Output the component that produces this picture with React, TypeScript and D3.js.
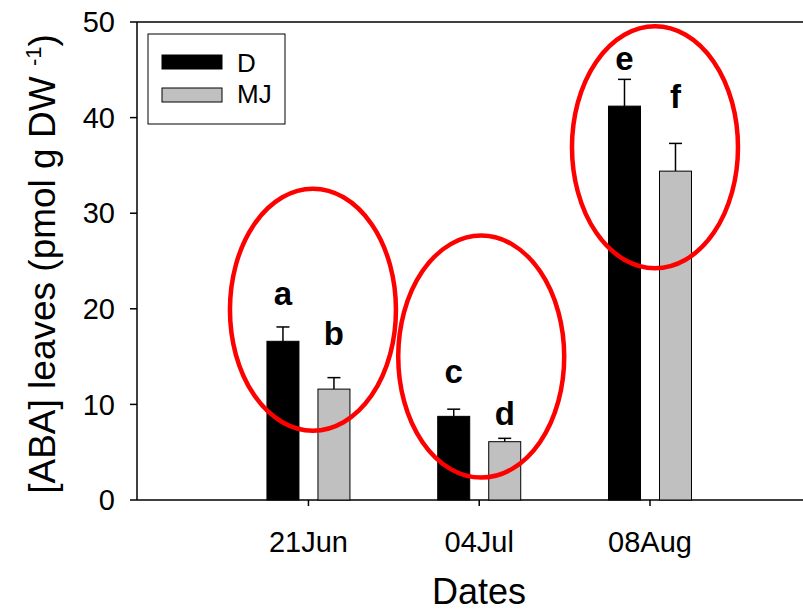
import React from "react";
import * as d3 from "d3";

const dates = ["21Jun", "04Jul", "08Aug"];
const seriesNames = ["D", "MJ"];
const dValues = [16.6, 8.75, 41.2];
const dErrors = [1.5, 0.75, 2.8];
const mjValues = [11.6, 6.1, 34.4];
const mjErrors = [1.2, 0.35, 2.9];
const dLetters = ["a", "c", "e"];
const mjLetters = ["b", "d", "f"];
const dLetterY = [20.4, 12.2, 45.0];
const mjLetterY = [16.2, 7.85, 41.0];
const ellipseCenterY = [19.9, 15.0, 36.9];
const yTicks = [0, 10, 20, 30, 40, 50];
const colors = ["#000000", "#c0c0c0"];

const W = 803, H = 612;
const left = 137, top = 22, bottom = 500, right = 803;

export default function App() {
  const y = d3.scaleLinear().domain([0, 50]).range([bottom, top]);
  const x = d3.scaleLinear().domain([-1.004, 2.896]).range([left, right]);
  const bw = 32, gap = 19;
  const series = [
    { vals: dValues, errs: dErrors, letters: dLetters, ly: dLetterY },
    { vals: mjValues, errs: mjErrors, letters: mjLetters, ly: mjLetterY },
  ];
  const font = "Arial, 'Liberation Sans', sans-serif";
  const ellOffsets = [4.5, 2, 5];
  return (
    <svg width={W} height={H} style={{ position: "absolute", left: 0, top: 0, background: "#fff" }} fontFamily={font}>
      <line x1={left} x2={right} y1={top} y2={top} stroke="#000" strokeWidth={1.5} />
      <line x1={left} x2={left} y1={top} y2={bottom} stroke="#000" strokeWidth={1.5} />
      <line x1={left} x2={right} y1={bottom} y2={bottom} stroke="#000" strokeWidth={1.5} />
      {yTicks.map((t) => (
        <g key={t}>
          <line x1={left - 7} x2={left} y1={y(t)} y2={y(t)} stroke="#000" strokeWidth={1.5} />
          <text x={left - 22} y={y(t)} dy="0.35em" textAnchor="end" fontSize={29}>{t}</text>
        </g>
      ))}
      {dates.map((d, i) => (
        <g key={d}>
          <line x1={x(i)} x2={x(i)} y1={bottom} y2={bottom + 6} stroke="#000" strokeWidth={1.5} />
          <text x={x(i)} y={552} textAnchor="middle" fontSize={29}>{d}</text>
        </g>
      ))}
      {series.map((s, si) =>
        s.vals.map((v, i) => {
          const x0 = si === 0 ? x(i) - gap / 2 - bw : x(i) + gap / 2;
          const cx = x0 + bw / 2;
          const ye = y(v + s.errs[i]);
          return (
            <g key={si + "-" + i}>
              <line x1={cx} x2={cx} y1={y(v)} y2={ye} stroke="#000" strokeWidth={1.5} />
              <line x1={cx - 6.5} x2={cx + 6.5} y1={ye} y2={ye} stroke="#000" strokeWidth={1.5} />
              <rect x={x0} y={y(v)} width={bw} height={bottom - y(v)} fill={colors[si]} stroke="#000" strokeWidth={1} />
              <text x={cx} y={y(s.ly[i])} textAnchor="middle" fontSize={33} fontWeight="bold">{s.letters[i]}</text>
            </g>
          );
        })
      )}
      {dates.map((d, i) => (
        <ellipse key={"e" + d} cx={x(i) + ellOffsets[i]} cy={y(ellipseCenterY[i])} rx={83} ry={121} fill="none" stroke="#ff0000" strokeWidth={4.5} />
      ))}
      <rect x={148} y={34} width={137} height={90} fill="#fff" stroke="#000" strokeWidth={1} />
      {seriesNames.map((n, i) => (
        <g key={n}>
          <rect x={162} y={55 + i * 33} width={60} height={14} fill={colors[i]} stroke="#000" strokeWidth={1} />
          <text x={237} y={72 + i * 31} fontSize={26}>{n}</text>
        </g>
      ))}
      <text transform={`translate(55,264) rotate(-90)`} textAnchor="middle" fontSize={37}>
        [ABA] leaves (pmol g DW <tspan fontSize={22} dy={-14}>-1</tspan><tspan dy={14}>)</tspan>
      </text>
      <text x={479} y={604} textAnchor="middle" fontSize={36}>Dates</text>
    </svg>
  );
}
